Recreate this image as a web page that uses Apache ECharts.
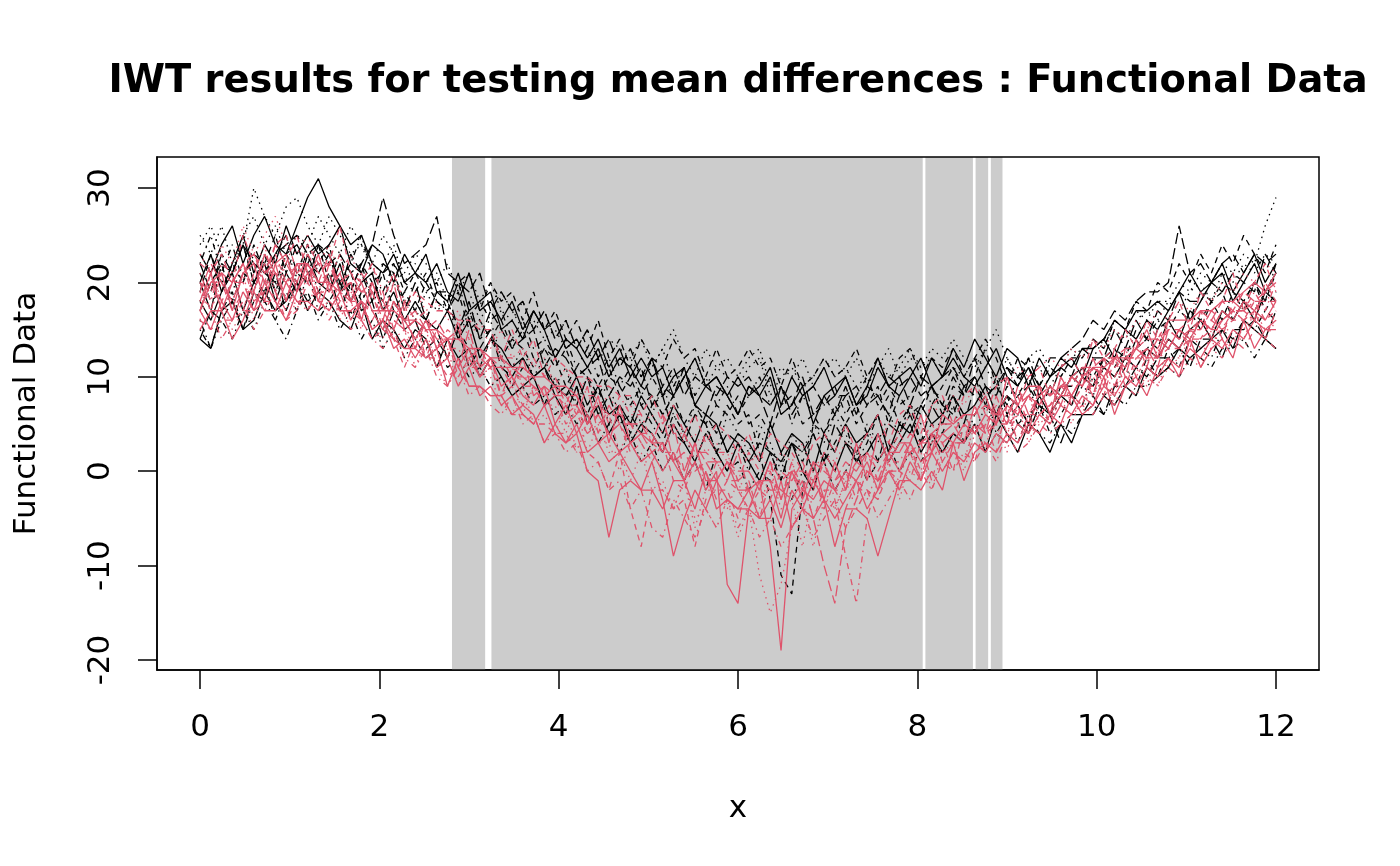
<!DOCTYPE html>
<html>
<head>
<meta charset="utf-8">
<script src="https://cdn.jsdelivr.net/npm/echarts@6/dist/echarts.min.js"></script>
<style>html,body{margin:0;padding:0;background:#fff}#c{width:1400px;height:866px}</style>
</head>
<body>
<div id="c"></div>
<script>
// evaluation grid (x positions of the functional observations)
const xGrid = [0,0.12,0.24,0.36,0.48,0.6,0.72,0.84,0.96,1.08,1.2,1.32,1.44,1.56,1.68,1.8,1.92,2.04,2.16,2.28,2.4,2.52,2.64,2.76,2.88,3,3.12,3.24,3.36,3.48,3.6,3.72,3.84,3.96,4.08,4.2,4.32,4.44,4.56,4.68,4.8,4.92,5.04,5.16,5.28,5.4,5.52,5.64,5.76,5.88,6,6.12,6.24,6.36,6.48,6.6,6.72,6.84,6.96,7.08,7.2,7.32,7.44,7.56,7.68,7.8,7.92,8.04,8.16,8.28,8.4,8.52,8.64,8.76,8.88,9,9.12,9.24,9.36,9.48,9.6,9.72,9.84,9.96,10.08,10.2,10.32,10.44,10.56,10.68,10.8,10.92,11.04,11.16,11.28,11.4,11.52,11.64,11.76,11.88,12];
const xTicks = [0,2,4,6,8,10,12];
const yTicks = [-20,-10,0,10,20,30];
// significant intervals (grey bands)
const sigIntervals = [[2.81,3.18],[3.25,8.06],[8.09,8.62],[8.65,8.79],[8.82,8.95]];

// group 1 (black)
const b01 = [23,21,24,26,22,25,27,24,23,26,29,31,28,26,24,25,22,21,23,20,21,23,19,18,21,17,18,19,15,16,14,17,15,12,14,13,11,13,10,12,11,9,12,8,10,11,7,9,10,8,6,9,8,10,6,7,9,5,8,9,10,7,8,11,9,8,10,12,9,10,12,10,9,11,13,10,9,11,8,10,11,12,10,13,14,12,15,14,16,15,17,19,16,18,20,21,18,20,22,19,21];
const b02 = [21,18,19,22,20,24,21,20,23,24,21,22,24,19,21,18,20,21,17,19,17,16,19,18,15,17,14,15,12,14,13,11,13,12,9,11,10,8,10,9,7,9,8,6,8,5,7,6,4,7,5,6,2,-3,-11,-13,-2,5,4,7,5,7,4,6,8,5,7,6,9,7,6,9,8,7,10,6,8,9,7,9,8,10,11,9,12,13,11,14,12,15,16,14,17,15,18,19,16,18,20,17,19];
const b03 = [25,23,26,22,24,30,27,25,28,29,26,24,27,25,23,24,21,22,24,20,22,20,21,18,20,19,16,18,19,17,15,16,14,15,13,14,12,13,11,12,12,10,11,13,9,10,12,9,11,10,9,11,12,8,10,11,9,10,12,10,11,9,10,12,10,11,13,11,12,10,11,10,12,11,9,12,10,12,11,9,11,13,12,14,13,16,15,17,16,18,18,20,19,21,20,22,21,23,22,26,29];
const b04 = [16,13,17,19,15,18,20,16,19,17,21,17,18,20,16,19,17,15,18,16,14,16,15,12,15,13,11,14,12,9,11,10,7,10,8,9,6,9,5,7,4,7,5,3,6,4,1,4,5,2,3,0,4,2,-1,3,1,4,1,3,5,1,3,6,2,4,7,3,5,4,7,3,6,8,4,6,3,6,7,4,6,8,7,10,8,9,11,9,12,10,13,11,14,13,12,15,14,16,15,17,16];
const b05 = [22,19,23,21,24,22,21,23,24,25,23,24,22,23,21,22,24,29,25,22,23,24,27,21,20,19,21,17,19,17,18,15,17,14,16,13,15,12,14,11,13,10,12,9,11,8,10,9,8,10,9,10,8,7,9,6,8,9,7,8,8,9,7,8,10,9,10,8,9,10,11,9,10,8,9,11,10,11,9,12,12,13,14,16,15,17,16,18,19,19,20,26,21,22,20,22,23,21,23,22,23];
const b06 = [14,13,17,18,15,16,19,17,18,20,17,19,18,16,15,18,14,16,15,13,15,14,11,14,12,13,10,12,10,8,9,10,7,8,6,9,5,7,4,6,3,5,4,2,5,3,1,4,2,0,3,1,-1,2,1,3,0,-2,2,0,3,1,2,4,1,3,5,2,4,2,4,3,5,2,6,4,2,5,4,2,5,3,6,6,8,7,9,8,11,10,11,13,12,13,14,15,13,16,15,14,13];
const b07 = [19,23,20,21,24,20,22,25,21,24,22,24,20,23,19,22,18,21,22,19,21,19,20,17,20,21,17,20,18,19,16,19,15,17,14,16,13,16,12,14,11,14,12,11,14,12,13,10,13,10,11,13,11,12,9,12,9,10,12,10,11,13,10,12,9,12,13,10,12,11,13,10,12,14,12,9,12,11,9,11,10,12,12,14,13,16,15,18,17,20,19,22,20,23,21,24,22,25,23,21,24];
const b08 = [18,21,17,19,22,19,23,20,18,21,23,19,21,20,18,21,19,17,20,18,16,19,17,18,14,17,15,16,12,11,13,10,12,9,11,7,10,8,9,6,8,5,6,9,6,4,7,5,2,6,4,2,5,3,0,4,2,5,3,6,4,1,5,3,6,4,7,5,3,6,8,6,4,7,5,8,6,4,7,5,8,7,9,8,11,10,12,11,13,14,13,15,14,16,15,17,16,18,17,19,18];
const b09 = [22,25,21,24,20,23,22,19,23,21,24,21,23,20,22,25,21,19,22,20,19,21,18,17,20,16,18,16,17,14,16,13,14,12,14,11,13,10,12,9,11,8,10,8,9,11,8,10,7,9,6,8,10,7,9,5,8,6,7,9,6,8,10,7,9,7,8,10,7,9,11,8,10,13,9,7,10,9,6,9,8,10,9,12,11,13,12,15,14,16,15,17,16,19,18,20,19,17,20,18,22];
const b10 = [14,17,16,18,15,19,18,21,17,20,18,19,21,17,20,17,18,14,17,15,16,13,14,12,15,11,13,15,11,10,12,10,11,8,9,7,10,6,8,5,6,4,7,8,4,3,6,5,2,4,3,1,3,2,-1,3,2,4,1,5,3,2,4,1,5,4,6,3,7,5,8,5,9,7,6,8,5,4,7,6,3,6,6,8,6,9,9,11,10,12,12,13,11,14,14,12,15,15,16,14,17];
const b11 = [20,23,19,22,25,21,24,22,26,23,25,23,24,26,22,21,24,23,20,23,21,20,22,19,18,21,17,18,16,18,15,17,15,16,13,14,12,14,11,13,10,12,10,11,8,10,12,9,10,8,10,8,9,11,7,10,8,9,11,8,10,7,9,12,9,10,11,9,12,10,13,11,14,12,10,13,12,9,12,10,12,11,13,13,14,16,15,17,17,18,17,19,21,19,20,22,19,21,23,20,22];
const b12 = [17,20,22,18,21,20,23,19,22,20,22,21,23,20,19,22,20,18,21,18,17,20,18,17,19,15,16,14,16,13,15,12,13,11,13,10,11,9,11,8,10,7,8,6,8,10,7,5,7,6,8,5,6,4,7,8,5,6,4,6,8,5,7,9,5,8,6,7,9,6,9,8,10,7,6,9,8,10,7,6,9,9,11,10,12,11,13,13,14,13,16,14,17,16,18,16,19,18,20,18,21];
const b13 = [24,26,23,21,25,27,24,26,23,25,24,27,25,23,26,24,22,25,23,21,23,22,20,22,19,21,18,20,17,16,18,15,17,14,16,13,15,12,14,13,12,14,11,13,15,12,10,13,11,12,10,12,13,9,11,10,12,9,11,12,10,12,9,11,13,10,12,11,13,12,14,12,11,13,15,12,10,12,13,11,10,12,13,12,14,15,14,16,17,16,18,17,19,20,18,21,20,22,21,23,22];
const b14 = [15,13,16,14,17,15,18,16,14,17,19,16,18,15,17,14,16,13,15,12,14,12,13,11,12,10,11,9,10,8,9,7,8,6,7,5,6,3,5,2,4,1,3,0,2,-1,1,-2,2,0,1,-2,0,-1,2,-3,0,-1,1,-2,0,2,-1,1,3,0,2,1,3,2,4,3,5,2,4,3,5,6,4,3,5,4,6,7,6,8,7,9,9,10,11,10,12,12,11,13,13,14,12,14,13];
const b15 = [20,17,22,21,24,20,19,23,25,21,20,24,23,19,23,21,18,22,21,17,20,16,19,19,15,18,14,17,15,13,14,15,11,13,12,10,11,12,8,10,9,11,7,9,8,11,7,6,9,8,6,9,8,5,9,7,10,6,8,6,9,6,9,8,6,10,7,10,9,7,10,8,12,9,8,11,9,12,9,8,11,10,13,12,12,15,13,16,14,17,16,19,18,18,20,19,21,20,19,23,21];
const b16 = [18,16,19,21,17,20,22,18,21,19,23,20,19,22,18,20,21,17,19,16,18,16,15,17,14,16,12,14,13,11,12,10,11,9,8,10,7,9,6,7,5,8,6,4,7,5,3,6,5,2,4,3,1,5,2,4,3,0,4,2,5,3,4,6,2,5,4,7,5,6,8,6,7,9,6,8,7,5,8,6,8,7,10,9,11,10,12,11,13,12,14,13,15,16,14,17,16,18,16,19,18];

// group 2 (red)
const r01 = [18,21,17,20,22,19,23,21,18,22,20,23,19,21,18,20,17,15,18,16,14,16,13,14,11,13,10,12,9,10,8,7,9,5,7,4,6,3,4,2,3,1,2,0,2,-1,1,-2,0,-12,-14,-4,-1,-8,-19,-4,-2,-3,-1,-2,0,-1,1,-2,2,0,3,1,2,4,3,5,4,6,5,7,6,8,7,9,8,10,9,11,10,12,11,13,12,14,13,15,14,16,15,17,16,18,17,16,18];
const r02 = [20,17,21,20,22,18,19,23,20,21,22,20,21,18,19,17,16,18,16,15,13,15,13,14,10,12,10,11,8,9,7,9,7,8,5,6,4,6,4,5,2,3,1,3,-1,-2,1,0,-3,-1,-2,-4,-2,-3,0,-1,1,-2,2,0,-1,1,2,0,2,4,2,3,5,3,4,6,4,5,7,5,6,8,6,7,9,8,10,9,11,10,12,11,13,12,14,13,15,14,16,15,17,16,18,16,17];
const r03 = [16,20,18,15,17,21,18,19,23,20,17,21,20,16,19,18,15,14,18,15,11,14,12,13,9,12,10,10,7,6,9,5,6,4,7,2,5,3,3,0,3,1,1,-2,-4,-1,-5,-4,-6,-3,-7,-4,-11,-15,-12,-6,-3,-8,-3,-4,-1,-4,-2,-3,1,-2,0,-1,3,0,2,1,5,2,4,4,7,3,6,5,8,5,8,8,10,7,10,10,12,9,12,12,14,11,15,13,14,15,17,14,16];
const r04 = [21,18,22,21,17,21,24,19,22,25,21,22,20,23,18,21,19,19,15,18,16,17,13,15,14,14,11,14,12,12,9,12,10,10,7,10,8,8,5,8,6,6,3,6,4,4,1,4,2,2,-1,2,0,0,-3,1,-2,-2,1,-3,-9,-14,-5,-1,0,-1,3,-1,2,2,3,3,5,2,7,4,6,6,8,5,10,7,9,9,11,8,13,10,12,12,14,13,15,16,15,16,17,16,17,19,17];
const r05 = [17,21,18,20,20,17,21,22,18,22,22,20,23,19,20,19,19,16,20,15,16,15,15,12,16,11,12,11,11,9,12,8,9,8,8,6,9,4,7,5,5,4,4,2,5,0,3,1,1,-1,2,-2,-1,-2,-2,-3,-1,-5,-10,-14,-6,-3,0,-1,0,0,2,-1,4,1,3,3,5,4,5,5,7,4,9,6,8,8,10,8,12,9,12,12,13,11,15,14,15,15,17,14,18,17,18,18,18];
const r06 = [15,17,17,14,16,19,17,17,20,18,18,17,20,17,17,18,15,16,14,13,13,12,13,9,12,9,9,8,8,6,7,6,3,5,3,4,0,-1,-7,-2,-1,-2,-2,-4,-1,-1,-4,0,-4,-3,-4,-4,-5,-5,-1,-6,-4,-5,-3,-8,-4,-4,-5,-9,-5,-1,-1,-2,0,-2,3,-1,2,3,2,4,3,5,4,6,5,8,6,7,10,6,9,10,8,11,12,10,14,11,13,14,12,16,13,15,15];
const r07 = [22,21,23,20,25,22,20,24,25,21,24,22,22,26,21,20,22,18,21,17,19,18,17,17,16,16,15,15,12,15,12,14,10,12,11,10,10,9,9,8,8,6,8,5,7,4,6,3,5,4,2,4,1,4,3,2,0,3,4,2,5,2,4,6,3,6,7,4,7,8,5,8,9,6,9,10,7,10,11,8,11,12,10,14,12,13,15,13,16,14,16,18,15,19,17,18,21,17,20,22,19];
const r08 = [19,17,20,18,21,16,19,22,21,17,21,20,17,19,18,15,19,18,14,15,14,15,11,9,12,12,10,11,8,10,6,9,7,7,4,7,2,5,2,2,-1,2,-2,-1,-4,-1,-6,-2,-2,-4,-1,-5,-4,0,-4,-3,-8,-2,-2,-4,-1,-1,-3,0,1,-3,1,2,-2,2,3,0,4,3,5,2,7,8,5,6,7,8,6,10,8,9,10,11,9,13,11,12,15,13,13,16,14,14,17,15,16];
const r09 = [18,20,20,17,19,19,22,19,17,20,22,19,19,21,18,16,19,15,16,15,16,12,15,13,13,11,11,12,8,11,9,9,7,8,7,7,4,5,6,2,5,3,3,2,2,0,3,-2,1,-1,-1,-2,-2,1,-3,1,-3,0,-4,-1,0,-3,2,-1,1,1,3,0,4,3,4,3,7,4,6,6,8,5,9,8,9,9,11,8,12,11,12,12,13,13,15,14,15,15,17,16,17,17,19,17,20];
const r10 = [20,19,21,20,22,23,20,21,20,22,22,18,22,19,18,18,17,17,15,18,13,16,14,14,11,15,11,12,11,11,10,10,8,9,8,8,6,7,6,6,5,5,3,6,1,4,2,2,1,1,0,0,-2,1,-3,0,0,-1,1,-2,-2,1,0,-1,2,2,2,3,3,4,5,3,7,4,8,5,9,6,8,9,7,10,9,12,9,13,10,14,11,15,13,15,13,17,14,16,17,17,16,20,18];
const r11 = [17,20,21,17,21,22,18,22,23,19,22,20,20,19,20,16,20,17,17,16,16,15,15,14,14,13,13,12,12,11,11,10,10,9,9,8,5,8,3,7,3,4,3,3,1,-1,3,-1,-1,1,-2,-2,-1,-1,-5,0,-3,1,-3,1,-2,3,-1,4,1,3,3,6,2,6,5,6,6,8,5,10,7,9,9,6,10,8,10,11,11,12,12,13,15,12,16,16,16,17,17,18,18,19,20,19,21];
const r12 = [16,15,16,16,17,17,18,18,16,17,20,18,18,17,17,16,14,15,14,11,14,12,12,10,11,9,9,8,8,6,6,5,5,4,4,2,2,1,-2,2,-4,-8,-2,-2,-4,-3,-8,-3,-2,-2,-5,-1,-5,-1,-2,-1,-1,-5,-2,-2,-4,-1,-2,-3,0,0,-1,3,-1,3,0,5,1,5,2,7,3,6,6,7,8,8,7,11,8,12,9,12,12,12,13,13,14,14,15,15,16,16,17,14,17];
const r13 = [23,21,24,22,26,23,25,27,24,23,25,22,24,21,23,20,22,19,21,18,19,17,18,16,17,14,16,13,15,12,13,11,12,9,11,8,10,7,8,6,7,5,6,4,5,3,4,2,3,1,3,1,2,0,2,1,3,0,2,1,3,2,4,3,5,4,6,5,7,6,8,7,9,8,10,9,11,10,11,12,11,13,12,14,13,15,14,16,15,17,16,18,17,19,18,20,19,21,20,22,21];
const r14 = [15,17,14,16,18,15,17,19,16,18,17,19,16,18,15,16,14,13,15,12,11,13,10,9,11,8,9,7,6,8,5,6,3,4,2,3,0,1,-2,-1,-4,-2,-6,-7,-3,-5,-7,-4,-6,-3,-6,-4,-7,-5,-8,-6,-4,-7,-5,-3,-6,-4,-2,-5,-3,-1,-3,0,-2,1,0,2,1,3,1,4,2,3,5,4,5,6,7,6,8,7,9,8,10,9,11,10,12,11,13,12,14,13,15,14,13];
const r15 = [19,22,20,18,21,23,21,24,22,20,23,21,22,20,21,19,20,17,18,16,17,15,16,14,15,12,13,11,12,10,10,9,8,9,6,7,5,6,4,5,3,4,2,3,1,2,0,1,-1,1,-1,0,-2,1,-1,0,-2,1,0,-1,1,0,2,1,3,2,4,3,4,5,5,6,6,7,6,8,7,8,9,8,9,10,11,11,12,12,13,13,14,14,15,15,16,17,16,18,17,19,18,19,20];
const r16 = [17,15,18,16,19,17,20,18,16,19,21,18,17,19,16,18,15,16,13,14,12,14,11,12,9,11,8,9,7,8,6,5,7,4,3,5,2,3,1,2,0,-2,1,-3,-9,-5,-2,-4,-1,-3,-4,-2,-5,-3,-6,-2,-4,-1,-3,-5,-3,-1,-4,-2,0,-2,1,-1,2,0,2,1,3,2,4,3,5,4,6,5,7,6,8,7,9,8,10,9,11,10,12,11,13,12,14,13,15,14,16,15,16];

const blackCurves = [b01,b02,b03,b04,b05,b06,b07,b08,b09,b10,b11,b12,b13,b14,b15,b16];
const redCurves = [r01,r02,r03,r04,r05,r06,r07,r08,r09,r10,r11,r12,r13,r14,r15,r16];

const FONT = 'DejaVu Sans';
const ltys = ['solid',[6,5],[1.5,4.5],[1.5,4.5,6,4.5],[11,4.5]];

function mkSeries(curve, k, color) {
  return {
    type: 'line',
    data: curve.map((v, i) => [xGrid[i], v]),
    showSymbol: false,
    symbol: 'none',
    silent: true,
    z: 3,
    lineStyle: { color: color, width: 1.3, type: ltys[k % ltys.length] }
  };
}

const series = [];
series.push({
  type: 'line', data: [], z: 1, silent: true,
  markArea: {
    silent: true,
    itemStyle: { color: '#CCCCCC', opacity: 1 },
    data: sigIntervals.map(iv => [{ xAxis: iv[0] }, { xAxis: iv[1] }])
  }
});
blackCurves.forEach((c, k) => series.push(mkSeries(c, k, '#000000')));
redCurves.forEach((c, k) => series.push(mkSeries(c, k, '#DF536B')));

const chart = echarts.init(document.getElementById('c'), null, { renderer: 'canvas' });
chart.setOption({
  animation: false,
  backgroundColor: '#ffffff',
  title: {
    text: 'IWT results for testing mean differences : Functional Data',
    left: 733, top: 58, textAlign: 'center',
    textStyle: { fontFamily: FONT, fontWeight: 'bold', fontSize: 38.4, color: '#000' }
  },
  grid: {
    left: 157, top: 157, width: 1162, height: 513,
    show: true, borderColor: '#000', borderWidth: 1.5, backgroundColor: 'transparent', z: 10
  },
  xAxis: {
    type: 'value', min: -0.48, max: 12.48,
    name: 'x', nameLocation: 'middle', nameGap: 123,
    nameTextStyle: { fontFamily: FONT, fontSize: 31, color: '#000' },
    axisLine: { show: true, onZero: false, lineStyle: { color: '#000', width: 1.5 } },
    axisTick: { show: true, length: 19, customValues: xTicks, lineStyle: { color: '#000', width: 1.5 } },
    axisLabel: { customValues: xTicks, margin: 42, fontFamily: FONT, fontSize: 31, color: '#000' },
    splitLine: { show: false }
  },
  yAxis: {
    type: 'value', min: -21.06, max: 33.29,
    name: 'Functional Data', nameLocation: 'middle', nameGap: 115, nameRotate: 90,
    nameTextStyle: { fontFamily: FONT, fontSize: 31, color: '#000' },
    axisLine: { show: true, onZero: false, lineStyle: { color: '#000', width: 1.5 } },
    axisTick: { show: true, length: 19, customValues: yTicks, lineStyle: { color: '#000', width: 1.5 } },
    axisLabel: { customValues: yTicks, rotate: 90, margin: 41, fontFamily: FONT, fontSize: 31, color: '#000' },
    splitLine: { show: false }
  },
  series: series
});
</script>
</body>
</html>
